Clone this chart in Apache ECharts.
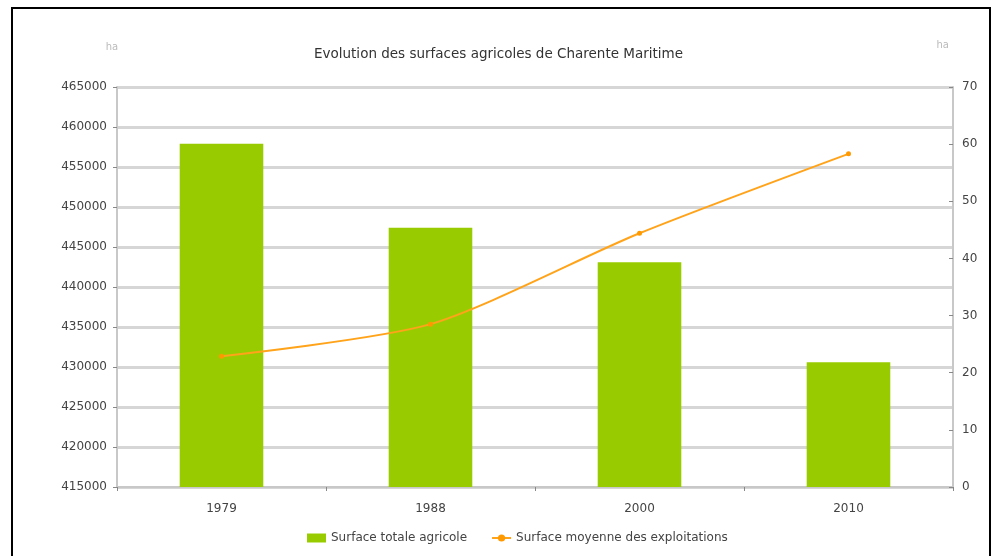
<!DOCTYPE html>
<html>
<head>
<meta charset="utf-8">
<script src="https://cdn.jsdelivr.net/npm/echarts@6/dist/echarts.min.js"></script>
<style>
html,body{margin:0;padding:0;background:#fff;width:997px;height:556px;overflow:hidden;}
#frame{position:absolute;left:11px;top:7px;width:980px;height:600px;border:2px solid #000;box-sizing:border-box;}
#chart{position:absolute;left:0;top:0;width:997px;height:556px;}
</style>
</head>
<body>
<div id="frame"></div>
<div id="chart"></div>
<script>
const categories = ['1979', '1988', '2000', '2010'];
const surfaceTotale = [457900, 447400, 443100, 430600];
const surfaceMoyenne = [22.9, 28.5, 44.4, 58.3];
const leftTicks = { min: 415000, max: 465000, interval: 5000 };
const rightTicks = { min: 0, max: 70, interval: 10 };
const titleText = 'Evolution des surfaces agricoles de Charente Maritime';
const seriesNames = ['Surface totale agricole', 'Surface moyenne des exploitations'];
const unitLabel = 'ha';

const chart = echarts.init(document.getElementById('chart'));
const font = 'DejaVu Sans, sans-serif';
chart.setOption({
  animation: false,
  textStyle: { fontFamily: font },
  title: {
    text: titleText, left: 'center', top: 42,
    textStyle: { fontSize: 13.5, fontWeight: 'normal', color: '#333', fontFamily: font }
  },
  legend: {
    bottom: 7, left: 302, itemGap: 24, itemWidth: 19, itemHeight: 9,
    textStyle: { fontSize: 12, color: '#444', fontFamily: font },
    data: [
      { name: seriesNames[0], icon: 'rect' },
      { name: seriesNames[1] }
    ]
  },
  grid: { left: 117, right: 44, top: 87, bottom: 69, containLabel: false },
  xAxis: {
    type: 'category', data: categories, boundaryGap: true,
    axisLine: { lineStyle: { color: '#c8c8c8', width: 2 } },
    axisTick: { show: true, inside: false, length: 4, lineStyle: { color: '#888' } },
    axisLabel: { color: '#444', fontSize: 12, margin: 16, fontFamily: font }
  },
  yAxis: [
    {
      type: 'value', min: leftTicks.min, max: leftTicks.max, interval: leftTicks.interval,
      name: unitLabel, nameLocation: 'end', nameGap: 35,
      nameTextStyle: { color: '#bbb', fontSize: 10, align: 'center', padding: [0, 10, 0, 0] },
      axisLine: { show: true, lineStyle: { color: '#c8c8c8', width: 2 } },
      axisTick: { show: true, length: 4, lineStyle: { color: '#888' } },
      axisLabel: { color: '#444', fontSize: 12, margin: 10, fontFamily: font, formatter: v => String(v) },
      splitLine: { show: true, lineStyle: { color: '#d6d6d6', width: 3 } }
    },
    {
      type: 'value', min: rightTicks.min, max: rightTicks.max, interval: rightTicks.interval,
      name: unitLabel, nameLocation: 'end', nameGap: 37,
      nameTextStyle: { color: '#bbb', fontSize: 10, align: 'right', padding: [0, 4, 0, 0] },
      axisLine: { show: true, lineStyle: { color: '#c8c8c8', width: 2 } },
      axisTick: { show: true, length: 4, inside: true, lineStyle: { color: '#888' } },
      axisLabel: { color: '#444', fontSize: 12, margin: 9, fontFamily: font },
      splitLine: { show: false }
    }
  ],
  series: [
    {
      name: seriesNames[0], type: 'bar', data: surfaceTotale, yAxisIndex: 0,
      barWidth: '40%', itemStyle: { color: '#99cc00' }
    },
    {
      name: seriesNames[1], type: 'line', data: surfaceMoyenne, yAxisIndex: 1,
      smooth: 0.25, symbol: 'circle', symbolSize: 5,
      lineStyle: { color: '#ffa31a', width: 2 },
      itemStyle: { color: '#ff9900' }
    }
  ]
});
</script>
</body>
</html>
